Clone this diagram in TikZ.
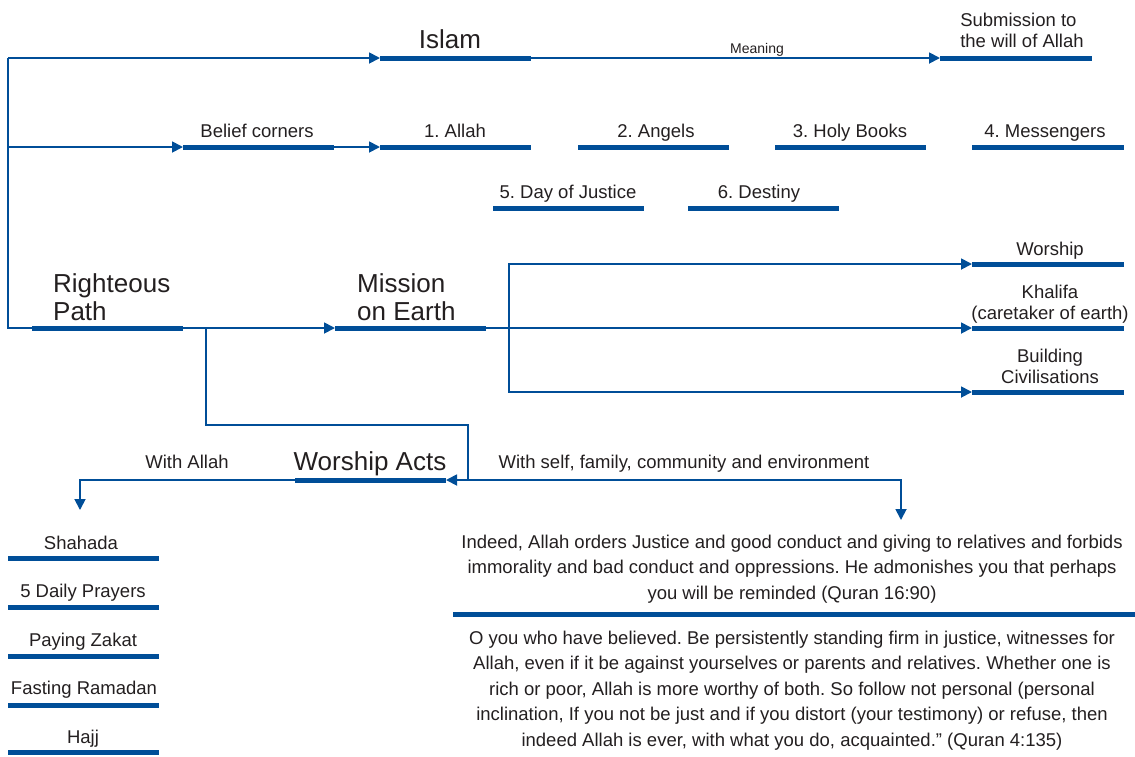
\documentclass[tikz,border=0pt]{standalone}
\usepackage{fontspec}
\setmainfont{Liberation Sans}
\usetikzlibrary{arrows.meta}
\definecolor{bl}{RGB}{0,78,152}
\definecolor{tx}{RGB}{35,31,32}
\frenchspacing
\newcommand\mkbar[4]{\coordinate (#1-w) at (#2,#4); \coordinate (#1-e) at (#3,#4); \draw[bar] (#1-w) -- (#1-e);}
\begin{document}
\begin{tikzpicture}[x=1pt,y=-1pt,
  bar/.style={line width=5pt,draw=bl},
  conn/.style={line width=1.8pt,draw=bl},
  arr/.style={conn,-{Triangle[length=11pt,width=11pt]}},
  lbl/.style={text=tx,font=\fontsize{18.5}{20.5}\selectfont,inner sep=0pt,anchor=base,align=center},
  big/.style={text=tx,font=\fontsize{26}{28}\selectfont,inner sep=0pt,anchor=base,align=left},
  small/.style={text=tx,font=\fontsize{14}{16}\selectfont,inner sep=0pt,anchor=base},
  quote/.style={text=tx,font=\fontsize{18.5}{25.5}\selectfont,inner sep=0pt,anchor=base,align=center},
]
\useasboundingbox (0,0) rectangle (1135,756);
% bars
\mkbar{islam}{380}{531}{58}
\mkbar{sub}{940}{1092}{58}
\mkbar{bc}{183}{334}{147}
\mkbar{allah}{380}{531}{147}
\mkbar{ang}{578}{729}{147}
\mkbar{hb}{775}{926}{147}
\mkbar{mes}{972}{1124}{147}
\mkbar{doj}{493}{644}{208}
\mkbar{des}{688}{839}{208}
\mkbar{rp}{32}{183}{328}
\mkbar{me}{335}{486}{328}
\mkbar{wo}{972}{1124}{264}
\mkbar{kh}{972}{1124}{328}
\mkbar{bu}{972}{1124}{392}
\mkbar{wa}{295}{446}{480}
\mkbar{sh}{8}{159}{558}
\mkbar{dp}{8}{159}{607}
\mkbar{pz}{8}{159}{656}
\mkbar{fr}{8}{159}{705}
\mkbar{hj}{8}{159}{752}
\mkbar{qb}{453}{1135}{614}
% texts
\node[big] (tIslam) at (450,48) {Islam};
\node[lbl,align=left] (tSub) at (1022,47) {Submission to\\the will of Allah};
\node[small] (tMeaning) at (757,53) {Meaning};
\node[lbl] (tBc) at (257,137) {Belief corners};
\node[lbl] (tAllah) at (455,137) {1. Allah};
\node[lbl] (tAng) at (656,137) {2. Angels};
\node[lbl] (tHb) at (850,137) {3. Holy Books};
\node[lbl] (tMes) at (1045,137) {4. Messengers};
\node[lbl] (tDoj) at (568,198) {5. Day of Justice};
\node[lbl] (tDes) at (759,198) {6. Destiny};
\node[big,anchor=base west] (tRp) at (53,320) {Righteous\\Path};
\node[big,anchor=base west] (tMe) at (357,320) {Mission\\on Earth};
\node[lbl] (tWo) at (1050,255) {Worship};
\node[lbl] (tKh) at (1050,319) {Khalifa\\(caretaker of earth)};
\node[lbl] (tBu) at (1050,383) {Building\\Civilisations};
\node[big] (tWa) at (370,470) {Worship Acts};
\node[lbl] (tWA) at (187,468) {With Allah};
\node[lbl] (tWS) at (684,468) {With self, family, community and environment};
\node[lbl] (tSh) at (81,549) {Shahada};
\node[lbl] (tDp) at (83,597) {5 Daily Prayers};
\node[lbl] (tPz) at (83,646) {Paying Zakat};
\node[lbl] (tFr) at (84,694) {Fasting Ramadan};
\node[lbl] (tHj) at (83,743) {Hajj};
\node[quote] (tQ1) at (792,599) {Indeed, Allah orders Justice and good conduct and giving to relatives and forbids\\immorality and bad conduct and oppressions. He admonishes you that perhaps\\you will be reminded (Quran 16:90)};
\node[quote] (tQ2) at (792,746) {O you who have believed. Be persistently standing firm in justice, witnesses for\\Allah, even if it be against yourselves or parents and relatives. Whether one is\\rich or poor, Allah is more worthy of both. So follow not personal (personal\\inclination, If you not be just and if you distort (your testimony) or refuse, then\\indeed Allah is ever, with what you do, acquainted.'' (Quran 4:135)};
% connectors
\coordinate (vtop) at (8,58);
\coordinate (vmid) at (8,147);
\coordinate (vbot) at (8,328);
\coordinate (br) at (509,328);
\coordinate (rpd) at (206,328);
\coordinate (wl) at (206,425);
\coordinate (wj) at (468,480);
\coordinate (ldown) at (80,510);
\coordinate (qdown) at (901,520);
\draw[conn] (rp-w) -- (vbot) -- (vtop);
\draw[arr] (vtop) -- (islam-w);
\draw[arr] (vmid) -- (bc-w);
\draw[arr] (islam-e) -- (sub-w);
\draw[arr] (bc-e) -- (allah-w);
\draw[arr] (rp-e) -- (me-w);
\draw[arr] (me-e) -- (kh-w);
\draw[arr] (br) |- (wo-w);
\draw[arr] (br) |- (bu-w);
\draw[conn] (rpd) -- (wl) -| (wj);
\draw[arr] (wj) -- (wa-e);
\draw[arr] (wj) -| (qdown);
\draw[arr] (wa-w) -| (ldown);
\end{tikzpicture}
\end{document}
